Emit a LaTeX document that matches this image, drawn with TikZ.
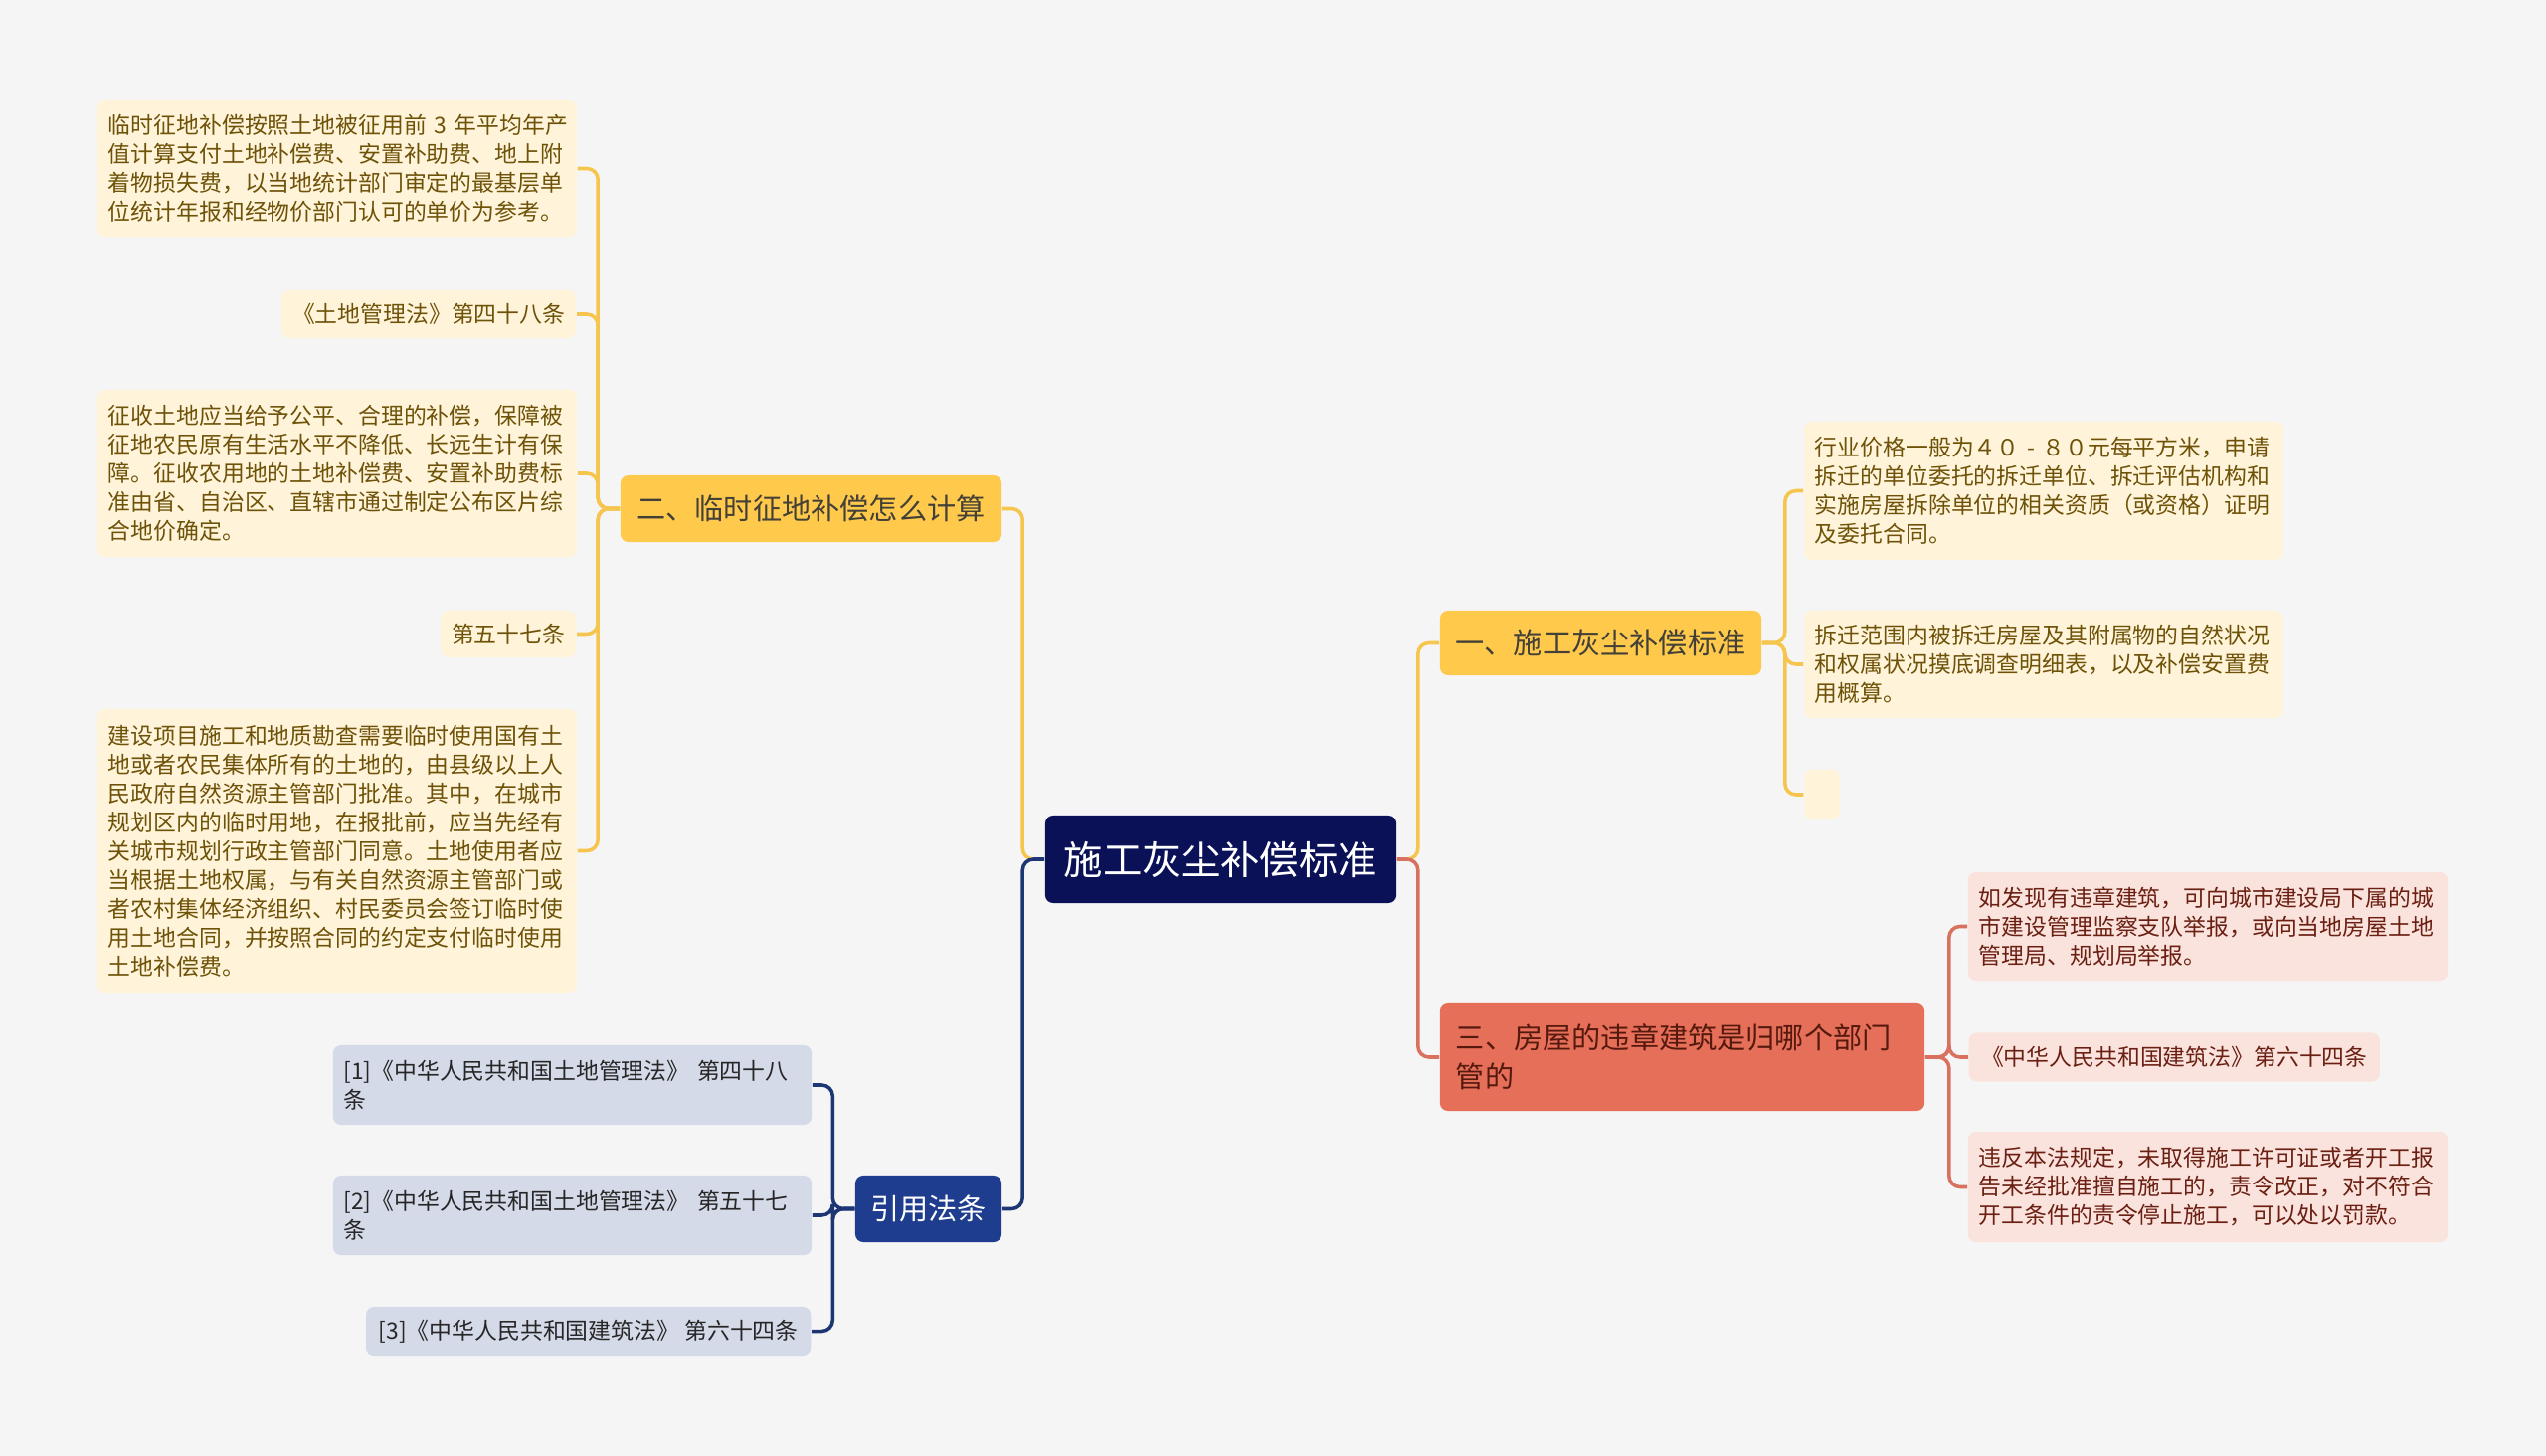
\documentclass[tikz,border=0pt]{standalone}
\usepackage{fontspec}
\setmainfont{Noto Sans CJK SC}
\usepackage{tikz}
\usetikzlibrary{positioning}
\definecolor{bgpage}{HTML}{F5F5F5}
\definecolor{navyroot}{HTML}{0B1157}
\definecolor{yellowmain}{HTML}{FFC94C}
\definecolor{yellowleaf}{HTML}{FFF4DA}
\definecolor{yellowtext}{HTML}{6E5208}
\definecolor{yellowline}{HTML}{F6C54E}
\definecolor{coralmain}{HTML}{E66F59}
\definecolor{coralleaf}{HTML}{FBE3DD}
\definecolor{coraltext}{HTML}{6A1F12}
\definecolor{coralline}{HTML}{D8725E}
\definecolor{bluemain}{HTML}{1E3D8E}
\definecolor{blueleaf}{HTML}{D5DAE9}
\definecolor{blueline}{HTML}{1D3674}

\begin{document}
\begin{tikzpicture}[x=0.01cm,y=-0.01cm,
  box/.style={rounded corners=0.08cm,inner sep=0pt},
  small/.style={font=\fontsize{6.5}{8.25}\selectfont},
  para/.style={text width=4.6cm,align=left},
  rootbox/.style={box,fill=navyroot,text=white,font=\fontsize{11.2}{13}\selectfont},
  ybranch/.style={box,fill=yellowmain,text=black!85!yellow,font=\fontsize{8.3}{11.1}\selectfont},
  rbranch/.style={box,fill=coralmain,text=coraltext!80!black,font=\fontsize{8.3}{11.1}\selectfont},
  bbranch/.style={box,fill=bluemain,text=white,font=\fontsize{8.3}{11.1}\selectfont},
  yleaf/.style={box,small,fill=yellowleaf,text=yellowtext},
  rleaf/.style={box,small,fill=coralleaf,text=coraltext},
  bleaf/.style={box,small,fill=blueleaf,text=black!85},
  ylink/.style={draw=yellowline,line width=1pt,rounded corners=0.11cm},
  rlink/.style={draw=coralline,line width=1pt,rounded corners=0.11cm},
  blink/.style={draw=blueline,line width=1pt,rounded corners=0.11cm}]
\fill[bgpage] (0,0) rectangle (2560,1464);
% centre and main branches
\node[rootbox,minimum width=3.53cm,minimum height=0.88cm] (root) at (1227.5,864) {施工灰尘补偿标准};
\node[ybranch,minimum width=3.83cm,minimum height=0.67cm] (sub2) at (815.5,511.5) {二、临时征地补偿怎么计算};
\node[ybranch,minimum width=3.23cm,minimum height=0.65cm] (sub1) at (1609.5,646.5) {一、施工灰尘补偿标准};
\node[rbranch,minimum width=4.87cm,minimum height=1.08cm,text width=4.55cm,align=left] (sub3) at (1691.5,1063) {三、房屋的违章建筑是归哪个部门\\管的};
\node[bbranch,minimum width=1.47cm,minimum height=0.67cm] (sub4) at (933.5,1215.5) {引用法条};
% left leaves
\node[yleaf,para,minimum width=4.82cm,minimum height=1.37cm] (l1) at (339,169.5) {临时征地补偿按照土地被征用前~3~年平均年产\\值计算支付土地补偿费、安置补助费、地上附\\着物损失费，以当地统计部门审定的最基层单\\位统计年报和经物价部门认可的单价为参考。};
\node[yleaf,anchor=east,minimum width=2.96cm,minimum height=0.48cm] (l2) at (580,316) {《土地管理法》第四十八条};
\node[yleaf,para,minimum width=4.82cm,minimum height=1.68cm] (l3) at (339,476) {征收土地应当给予公平、合理的补偿，保障被\\征地农民原有生活水平不降低、长远生计有保\\障。征收农用地的土地补偿费、安置补助费标\\准由省、自治区、直辖市通过制定公布区片综\\合地价确定。};
\node[yleaf,anchor=east,minimum width=1.36cm,minimum height=0.47cm] (l4) at (580,637.5) {第五十七条};
\node[yleaf,para,minimum width=4.82cm,minimum height=2.85cm] (l5) at (339,855.5) {建设项目施工和地质勘查需要临时使用国有土\\地或者农民集体所有的土地的，由县级以上人\\民政府自然资源主管部门批准。其中，在城市\\规划区内的临时用地，在报批前，应当先经有\\关城市规划行政主管部门同意。土地使用者应\\当根据土地权属，与有关自然资源主管部门或\\者农村集体经济组织、村民委员会签订临时使\\用土地合同，并按照合同的约定支付临时使用\\土地补偿费。};
% right leaves
\node[yleaf,para,minimum width=4.82cm,minimum height=1.39cm] (r1) at (2055,493.5) {行业价格一般为４０\makebox[1em]{-}８０元每平方米，申请\\拆迁的单位委托的拆迁单位、拆迁评估机构和\\实施房屋拆除单位的相关资质（或资格）证明\\及委托合同。};
\node[yleaf,para,minimum width=4.82cm,minimum height=1.08cm] (r2) at (2055,668) {拆迁范围内被拆迁房屋及其附属物的自然状况\\和权属状况摸底调查明细表，以及补偿安置费\\用概算。};
\node[yleaf,minimum width=0.36cm,minimum height=0.5cm] (r3) at (1832,799) {};
\node[rleaf,para,minimum width=4.82cm,minimum height=1.09cm] (t1) at (2220,931.5) {如发现有违章建筑，可向城市建设局下属的城\\市建设管理监察支队举报，或向当地房屋土地\\管理局、规划局举报。};
\node[rleaf,anchor=west,minimum width=4.13cm,minimum height=0.49cm] (t2) at (1979,1063) {《中华人民共和国建筑法》第六十四条};
\node[rleaf,para,minimum width=4.82cm,minimum height=1.11cm] (t3) at (2220,1193.5) {违反本法规定，未取得施工许可证或者开工报\\告未经批准擅自施工的，责令改正，对不符合\\开工条件的责令停止施工，可以处以罚款。};
% references
\node[bleaf,para,minimum width=4.81cm,minimum height=0.8cm] (c1) at (575.5,1091) {[1]《中华人民共和国土地管理法》~第四十八\\条};
\node[bleaf,para,minimum width=4.81cm,minimum height=0.8cm] (c2) at (575.5,1222) {[2]《中华人民共和国土地管理法》~第五十七\\条};
\node[bleaf,anchor=east,minimum width=4.47cm,minimum height=0.49cm] (c3) at (816,1338.5) {[3]《中华人民共和国建筑法》 第六十四条};
% connectors
\draw[ylink] (root.west) -- ++(-22,0) |- (sub2.east);
\draw[blink] (root.west) -- ++(-22,0) |- (sub4.east);
\draw[ylink] (root.east) -- ++(21,0) |- (sub1.west);
\draw[rlink] (root.east) -- ++(21,0) |- (sub3.west);
\foreach \n in {l1,l2,l3,l4,l5}
  \draw[ylink] (sub2.west) -- ++(-22,0) |- (\n.east);
\foreach \n in {r1,r2,r3}
  \draw[ylink] (sub1.east) -- ++(23,0) |- (\n.west);
\foreach \n in {t1,t2,t3}
  \draw[rlink] (sub3.east) -- ++(24,0) |- (\n.west);
\foreach \n in {c1,c2,c3}
  \draw[blink] (sub4.west) -- ++(-22,0) |- (\n.east);
\end{tikzpicture}
\end{document}
